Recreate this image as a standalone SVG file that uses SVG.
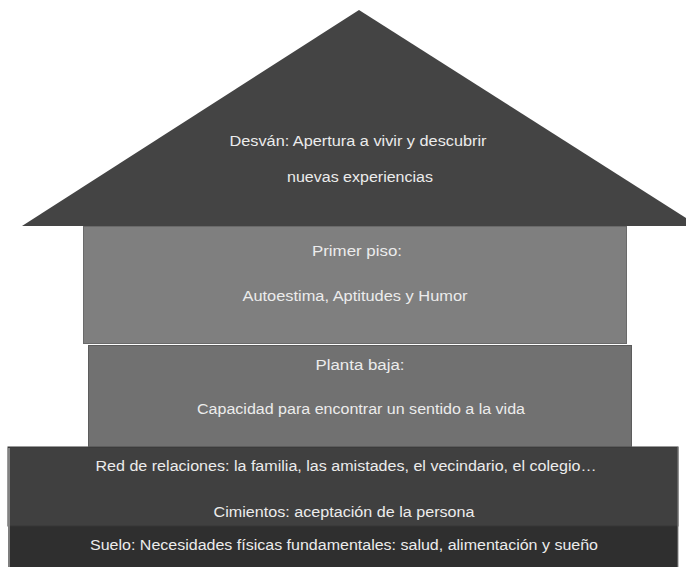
<svg xmlns="http://www.w3.org/2000/svg" width="686" height="567" viewBox="0 0 686 567">
<style>
text{font-family:"Liberation Sans","Open Sans",sans-serif;font-size:14px;fill:#ececec;text-anchor:middle}
.roof{fill:#444444}
.p1{fill:#7f7f7f;stroke:#6a6a6a;stroke-width:1}
.pb{fill:#717171;stroke:#5c5c5c;stroke-width:1}
.red{fill:#404040;stroke:#363636;stroke-width:1}
.suelo{fill:#2f2f2f}
</style>
<rect width="686" height="567" fill="#ffffff"/>
<g id="suelo">
<rect class="suelo" x="8" y="526" width="670" height="41"/>
<text x="344" y="550" textLength="508" lengthAdjust="spacingAndGlyphs">Suelo: Necesidades físicas fundamentales: salud, alimentación y sueño</text>
</g>
<g id="cimientos">
<rect class="red" x="8" y="447" width="670" height="79"/>
<line x1="9" y1="448" x2="9" y2="567" stroke="#9a9a9a" stroke-width="1.5"/>
<line x1="678" y1="447" x2="678" y2="567" stroke="#8a8a8a" stroke-width="1"/>
<text x="346" y="471" textLength="501" lengthAdjust="spacingAndGlyphs">Red de relaciones: la familia, las amistades, el vecindario, el colegio…</text>
<text x="344" y="517" textLength="261" lengthAdjust="spacingAndGlyphs">Cimientos: aceptación de la persona</text>
</g>
<g id="planta-baja">
<rect class="pb" x="88.5" y="345.5" width="543" height="101"/>
<text x="360" y="370" textLength="89" lengthAdjust="spacingAndGlyphs">Planta baja:</text>
<text x="361" y="414" textLength="328" lengthAdjust="spacingAndGlyphs">Capacidad para encontrar un sentido a la vida</text>
</g>
<g id="primer-piso">
<rect class="p1" x="83.5" y="226.5" width="543" height="117"/>
<text x="357" y="256" textLength="90" lengthAdjust="spacingAndGlyphs">Primer piso:</text>
<text x="355" y="301" textLength="225" lengthAdjust="spacingAndGlyphs">Autoestima, Aptitudes y Humor</text>
</g>
<g id="desvan">
<polygon class="roof" points="359,10 22,226 686,226 686,218"/>
<text x="358" y="146" textLength="257" lengthAdjust="spacingAndGlyphs">Desván: Apertura a vivir y descubrir</text>
<text x="360" y="182" textLength="146" lengthAdjust="spacingAndGlyphs">nuevas experiencias</text>
</g>
<g id="connectors"></g>
</svg>
